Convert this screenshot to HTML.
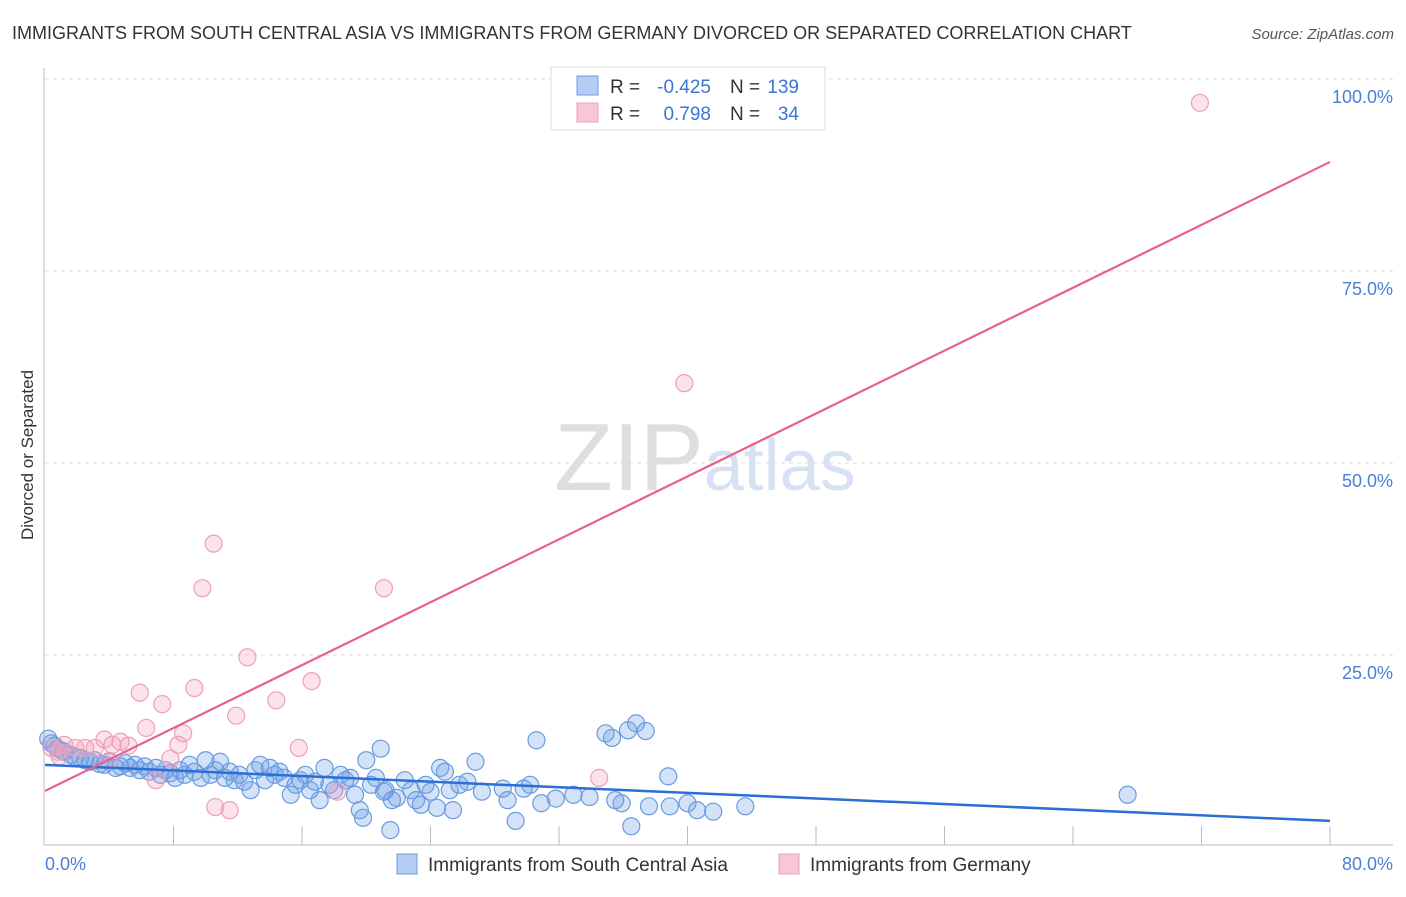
<!DOCTYPE html>
<html><head><meta charset="utf-8"><style>
body{margin:0;background:#fff;font-family:"Liberation Sans",sans-serif;}
svg text{font-family:"Liberation Sans",sans-serif;}
</style></head><body>
<svg id="chart" width="1406" height="892" xmlns="http://www.w3.org/2000/svg">
<text x="12" y="39" font-size="18" fill="#333">IMMIGRANTS FROM SOUTH CENTRAL ASIA VS IMMIGRANTS FROM GERMANY DIVORCED OR SEPARATED CORRELATION CHART</text>
<text x="1394" y="39" font-size="15" fill="#555" text-anchor="end" font-style="italic">Source: ZipAtlas.com</text>
<text x="705" y="490" font-size="96" text-anchor="middle" fill="#e4e4e4" font-family="Liberation Serif"><tspan fill="#dedede">ZIP</tspan><tspan fill="#d6e2f3" font-family="Liberation Sans" font-size="72">atlas</tspan></text>
<g id="grid"></g>
<g id="axes"></g>
<g id="pts"></g>
<g id="trends"></g>
<text transform="translate(33,455) rotate(-90)" font-size="17" fill="#333" text-anchor="middle">Divorced or Separated</text>
<g>
<rect x="551" y="67" width="274" height="63" fill="#fff" stroke="#ddd"/>
<rect x="577" y="76" width="21" height="19" fill="#b5cdf2" stroke="#6b9be0"/>
<rect x="577" y="103" width="21" height="19" fill="#f9c6d5" stroke="#eca0b8"/>
<text x="610" y="93" font-size="19" fill="#333">R =</text>
<text x="711" y="93" font-size="19" fill="#3b76d6" text-anchor="end">-0.425</text>
<text x="730" y="93" font-size="19" fill="#333">N =</text>
<text x="799" y="93" font-size="19" fill="#3b76d6" text-anchor="end">139</text>
<text x="610" y="120" font-size="19" fill="#333">R =</text>
<text x="711" y="120" font-size="19" fill="#3b76d6" text-anchor="end">0.798</text>
<text x="730" y="120" font-size="19" fill="#333">N =</text>
<text x="799" y="120" font-size="19" fill="#3b76d6" text-anchor="end">34</text>
</g>
<g>
<rect x="397" y="854" width="20" height="20" fill="#b5cdf2" stroke="#6b9be0"/>
<text x="428" y="871" font-size="19" fill="#333">Immigrants from South Central Asia</text>
<rect x="779" y="854" width="20" height="20" fill="#f9c6d5" stroke="#eca0b8"/>
<text x="810" y="871" font-size="19" fill="#333">Immigrants from Germany</text>
</g>
</svg>
<script>
const NS="http://www.w3.org/2000/svg";
const yTicks=[25,50,75,100];
const yTickLabels=["25.0%","50.0%","75.0%","100.0%"];
const xTickCount=10;
const blueX=[0.2,0.4,0.6,0.8,1.1,1.2,1.6,1.9,2.2,2.5,2.8,3.1,3.4,3.7,4.0,4.4,4.7,5.0,5.3,5.6,5.9,6.2,6.5,6.9,7.2,7.5,7.8,8.1,8.4,8.7,9.0,9.3,9.7,10.0,10.3,10.6,10.9,11.2,11.5,11.8,12.1,12.4,12.8,13.1,13.4,13.7,14.0,14.3,14.6,14.9,15.3,15.6,15.9,16.2,16.5,16.8,17.1,17.4,17.7,18.0,18.4,18.7,19.0,19.3,19.6,19.8,20.0,20.3,20.6,20.9,21.1,21.2,21.5,21.6,21.9,22.4,22.8,23.1,23.4,23.7,24.0,24.4,24.6,24.9,25.2,25.4,25.8,26.3,26.8,27.2,28.5,28.8,29.3,29.8,30.2,30.6,30.9,31.8,32.9,33.9,34.9,35.3,35.5,35.9,36.3,36.5,36.8,37.4,37.6,38.8,38.9,40.0,40.6,41.6,43.6,67.4];
const blueY=[14.1,13.5,13.2,12.8,12.5,12.4,12.0,11.7,11.6,11.3,11.1,11.3,10.8,10.7,11.1,10.3,10.5,10.9,10.3,10.7,10.0,10.5,9.8,10.3,9.4,10.0,9.6,9.0,10.0,9.4,10.7,9.8,9.0,11.3,9.4,10.0,11.1,9.0,9.8,8.7,9.4,8.5,7.4,10.0,10.7,8.7,10.3,9.4,9.8,9.0,6.8,8.1,8.7,9.4,7.4,8.5,6.1,10.3,8.1,7.4,9.4,8.7,9.0,6.8,4.8,3.8,11.3,8.1,9.0,12.8,7.2,7.4,2.2,6.1,6.4,8.7,7.4,6.1,5.5,8.1,7.2,5.1,10.3,9.8,7.4,4.8,8.1,8.5,11.1,7.2,7.6,6.1,3.4,7.6,8.1,13.9,5.7,6.3,6.8,6.5,14.8,14.2,6.1,5.7,15.2,2.7,16.1,15.1,5.3,9.2,5.3,5.7,4.8,4.6,5.3,6.8];
const pinkX=[0.4,0.8,1.2,1.9,2.5,3.1,3.7,4.2,4.7,5.2,5.9,6.3,6.9,7.3,7.8,8.3,8.6,9.3,9.8,10.5,10.6,11.5,11.9,12.6,14.4,15.8,16.6,18.2,21.1,34.5,39.8,71.9,4.0,0.9];
const pinkY=[12.9,12.4,13.3,12.9,12.9,12.9,14.0,13.3,13.7,13.2,20.1,15.5,8.7,18.6,11.5,13.3,14.8,20.7,33.7,39.5,5.2,4.8,17.1,24.7,19.1,12.9,21.6,7.2,33.7,9.0,60.4,96.9,11.2,11.8];
const blueTrend=[0,10.7,80,3.4];
const pinkTrend=[0,7.3,80,89.2];
const X0=45,X1=1330,Y0=847,Y100=79;
const sx=v=>X0+(v/80)*(X1-X0);
const sy=v=>Y0-(v/100)*(Y0-Y100);
function mk(tag,attrs,parent){const e=document.createElementNS(NS,tag);for(const k in attrs)e.setAttribute(k,attrs[k]);parent.appendChild(e);return e;}
const grid=document.getElementById('grid'),axes=document.getElementById('axes'),pts=document.getElementById('pts'),tr=document.getElementById('trends');
yTicks.forEach((t,i)=>{
 const l=mk('line',{x1:45,x2:1393,y1:sy(t),y2:sy(t),stroke:'#ddd','stroke-dasharray':'4,4'},grid);
 
 
 const tx=mk('text',{x:1393,y:sy(t)+24,'font-size':18,fill:'#4a7fd6','text-anchor':'end'},grid);
 tx.textContent=yTickLabels[i];
 
 
});
const ax=mk('line',{x1:44,x2:1393,y1:845,y2:845,stroke:'#bbb'},axes);


const ay=mk('line',{x1:44,x2:44,y1:68,y2:845,stroke:'#bbb'},axes);


for(let i=1;i<=xTickCount;i++){const x=sx(i*8);const t=mk('line',{x1:x,x2:x,y1:826,y2:845,stroke:'#bbb'},axes);
 
 }
const xl=mk('text',{x:45,y:870,'font-size':18,fill:'#4a7fd6'},axes);xl.textContent='0.0%';


const xr=mk('text',{x:1393,y:870,'font-size':18,fill:'#4a7fd6','text-anchor':'end'},axes);xr.textContent='80.0%';


const nB=Math.min(blueX.length,blueY.length);
for(let i=0;i<nB;i++){const c=mk('circle',{cx:sx(blueX[i]),cy:sy(blueY[i]),r:8.5,fill:'rgba(110,160,230,0.3)',stroke:'#6b9be0','stroke-width':1.2},pts);
 
 }
const nP=Math.min(pinkX.length,pinkY.length);
for(let i=0;i<nP;i++){const c=mk('circle',{cx:sx(pinkX[i]),cy:sy(pinkY[i]),r:8.5,fill:'rgba(245,160,190,0.3)',stroke:'#eca0b8','stroke-width':1.2},pts);
 
 }
const bt=mk('line',{x1:sx(blueTrend[0]),y1:sy(blueTrend[1]),x2:sx(blueTrend[2]),y2:sy(blueTrend[3]),stroke:'#2a6fd6','stroke-width':2.5},tr);


const pt=mk('line',{x1:sx(pinkTrend[0]),y1:sy(pinkTrend[1]),x2:sx(pinkTrend[2]),y2:sy(pinkTrend[3]),stroke:'#e8608e','stroke-width':2.2},tr);


</script>
</body></html>
